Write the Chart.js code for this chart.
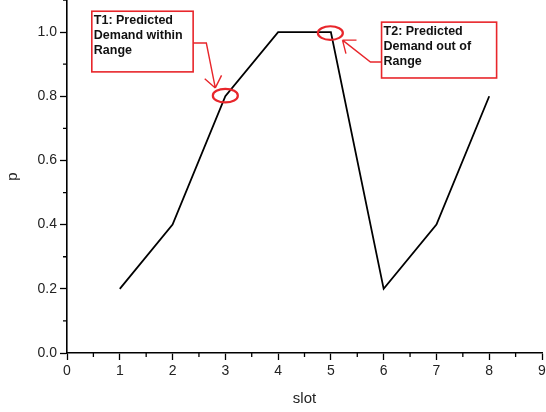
<!DOCTYPE html>
<html>
<head>
<meta charset="utf-8">
<script src="https://cdn.jsdelivr.net/npm/chart.js@4.4.1/dist/chart.umd.min.js"></script>
<style>
  html, body { margin: 0; padding: 0; background: #fff; }
  #wrap { width: 546px; height: 412px; }
</style>
</head>
<body>
<div id="wrap"><canvas id="chart"></canvas></div>
<script>
// data
const slots = [1, 2, 3, 4, 5, 6, 7, 8];
const pValues = [0.2, 0.4, 0.8, 1.0, 1.0, 0.2, 0.4, 0.8];
const xTickValues = [0, 1, 2, 3, 4, 5, 6, 7, 8, 9];
const yTickValues = [0, 0.2, 0.4, 0.6, 0.8, 1.0];
const t1Text = ['T1: Predicted', 'Demand within', 'Range'];
const t2Text = ['T2: Predicted', 'Demand out of', 'Range'];

const RED = '#e8262b';
const FONT = '"Liberation Sans", Arial, sans-serif';

// callouts, placed in data units so they follow the scales
const callouts = [
  { box: [0.47, 1.065, 2.39, 0.876], text: t1Text,
    path: [[2.39, 0.966], [2.64, 0.966], [2.81, 0.826]],
    ring: [3.0, 0.802] },
  { box: [5.96, 1.031, 8.14, 0.857], text: t2Text,
    path: [[5.96, 0.907], [5.75, 0.907], [5.22, 0.975]],
    ring: [4.99, 0.997] }
];

const minorTicks = {
  id: 'minorTicks',
  afterDraw(chart) {
    const { ctx, scales: { x, y } } = chart;
    ctx.save();
    ctx.strokeStyle = '#000';
    ctx.lineWidth = 1.3;
    ctx.beginPath();
    for (let v = 0.5; v < 9; v += 1) {
      const px = x.getPixelForValue(v);
      ctx.moveTo(px, x.top);
      ctx.lineTo(px, x.top + 4);
    }
    for (let v = 0.1; v < 1.1; v += 0.2) {
      const py = y.getPixelForValue(v);
      ctx.moveTo(y.right, py);
      ctx.lineTo(y.right - 4, py);
    }
    ctx.stroke();
    ctx.restore();
  }
};

const calloutPlugin = {
  id: 'callouts',
  afterDraw(chart) {
    const { ctx, scales: { x, y } } = chart;
    const P = (pt) => [x.getPixelForValue(pt[0]), y.getPixelForValue(pt[1])];
    ctx.save();
    callouts.forEach(c => {
      const [bx0, by0] = P([c.box[0], c.box[1]]);
      const [bx1, by1] = P([c.box[2], c.box[3]]);
      ctx.fillStyle = '#fff';
      ctx.fillRect(bx0, by0, bx1 - bx0, by1 - by0);
      ctx.strokeStyle = RED;
      ctx.lineWidth = 1.6;
      ctx.strokeRect(bx0, by0, bx1 - bx0, by1 - by0);

      ctx.fillStyle = '#111';
      ctx.font = 'bold 12.5px ' + FONT;
      ctx.textBaseline = 'middle';
      c.text.forEach((t, i) => ctx.fillText(t, bx0 + 2, by0 + 9 + i * 15));

      // arrow
      const pts = c.path.map(P);
      ctx.lineWidth = 1.4;
      ctx.beginPath();
      ctx.moveTo(pts[0][0], pts[0][1]);
      for (let i = 1; i < pts.length; i++) ctx.lineTo(pts[i][0], pts[i][1]);
      const tip = pts[pts.length - 1], prev = pts[pts.length - 2];
      const ang = Math.atan2(prev[1] - tip[1], prev[0] - tip[0]);
      [-0.66, 0.66].forEach(d => {
        ctx.moveTo(tip[0], tip[1]);
        ctx.lineTo(tip[0] + 14 * Math.cos(ang + d), tip[1] + 14 * Math.sin(ang + d));
      });
      ctx.stroke();

      // ring
      const [rx, ry] = P(c.ring);
      ctx.lineWidth = 2.2;
      ctx.beginPath();
      ctx.ellipse(rx, ry, 12.5, 6.8, 0, 0, Math.PI * 2);
      ctx.stroke();
    });
    ctx.restore();
  }
};

new Chart(document.getElementById('chart'), {
  type: 'line',
  data: {
    datasets: [{
      data: slots.map((s, i) => ({ x: s, y: pValues[i] })),
      borderColor: '#000',
      borderWidth: 1.8,
      pointRadius: 0,
      tension: 0,
      fill: false
    }]
  },
  options: {
    responsive: true,
    maintainAspectRatio: false,
    animation: false,
    layout: { padding: { top: 0, right: 4, left: 0, bottom: 0 } },
    plugins: { legend: { display: false }, tooltip: { enabled: false } },
    scales: {
      x: {
        type: 'linear',
        min: 0, max: 9,
        afterBuildTicks: s => { s.ticks = xTickValues.map(v => ({ value: v })); },
        afterFit: s => { s.height = 59; s.paddingLeft = 0; s.paddingRight = 0; },
        border: { display: true, color: '#000', width: 1.6 },
        grid: { drawOnChartArea: false, drawTicks: true, tickLength: 7, tickColor: '#000', tickWidth: 1.3 },
        ticks: { color: '#222', font: { family: FONT, size: 14 }, padding: 3, maxRotation: 0 },
        title: { display: true, text: 'slot', color: '#222', font: { family: FONT, size: 15 }, padding: { top: 4 } }
      },
      y: {
        min: 0, max: 1.1,
        afterBuildTicks: s => { s.ticks = yTickValues.map(v => ({ value: v })); },
        afterFit: s => { s.width = 67; s.paddingTop = 0; s.paddingBottom = 0; },
        border: { display: true, color: '#000', width: 1.6 },
        grid: { drawOnChartArea: false, drawTicks: true, tickLength: 7, tickColor: '#000', tickWidth: 1.3 },
        ticks: { color: '#222', font: { family: FONT, size: 14 }, padding: 3, callback: v => v.toFixed(1) },
        title: { display: true, text: 'p', color: '#222', font: { family: FONT, size: 15 }, padding: { bottom: 6 } }
      }
    }
  },
  plugins: [minorTicks, calloutPlugin]
});
</script>
</body>
</html>
